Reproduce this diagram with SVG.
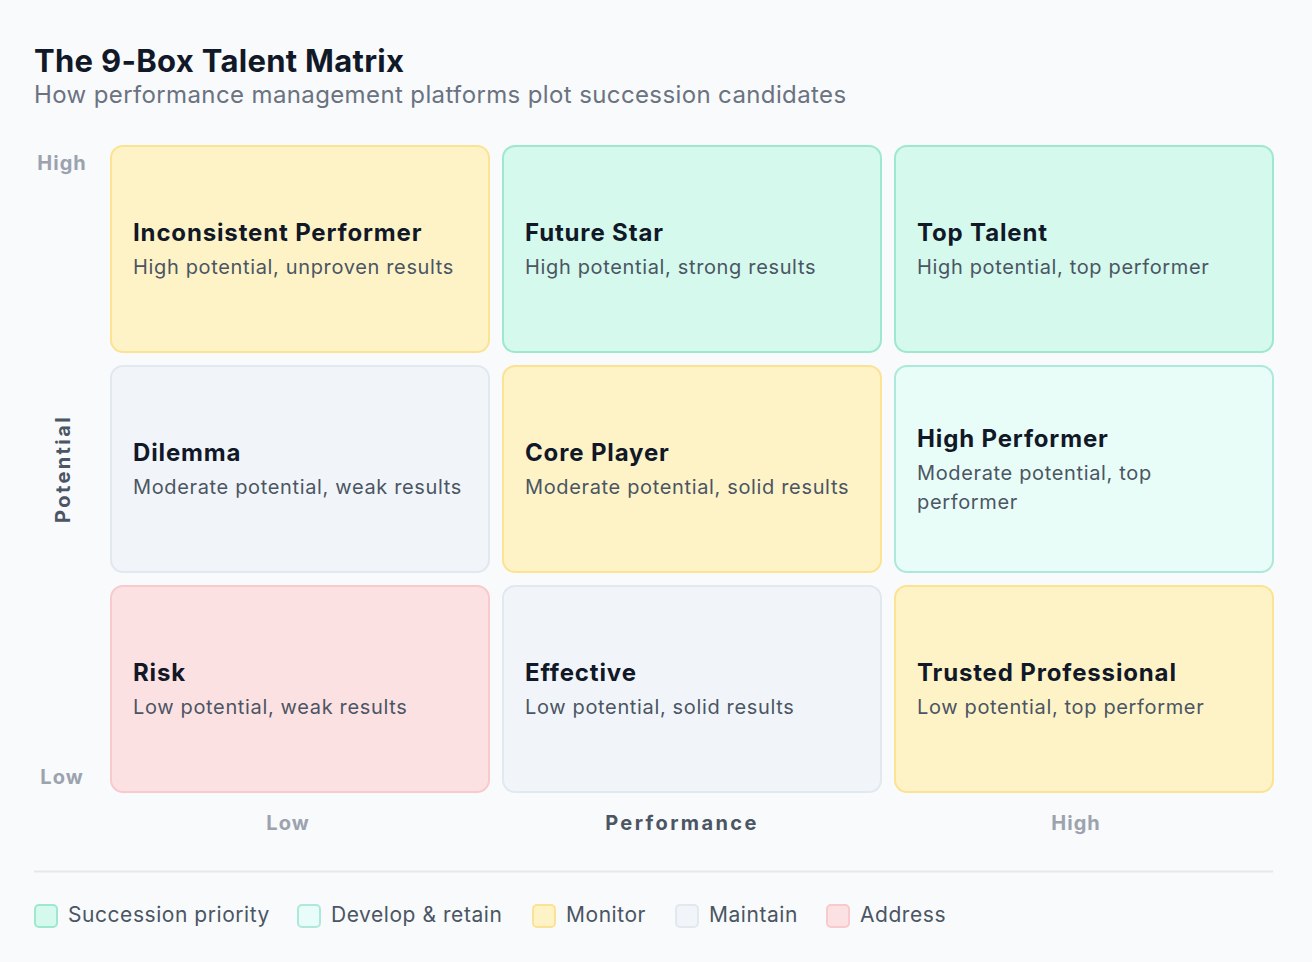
<svg xmlns="http://www.w3.org/2000/svg" width="1312" height="962" viewBox="0 0 1312 962">
<style>
text{font-family:Inter,"Noto Sans","Liberation Sans",sans-serif}
.t{font-size:24px;font-weight:700;fill:#111827;letter-spacing:0.85px}
.s{font-size:20px;fill:#4b5563;letter-spacing:0.65px}
.ax{font-size:20px;font-weight:700;fill:#9ca3af;letter-spacing:1px}
.axl{font-size:20px;font-weight:700;fill:#4b5563;letter-spacing:2.4px}
.lg{font-size:21px;fill:#4b5563;letter-spacing:0.55px}
.g{fill:#d5f9ed;stroke:#9de8cf}
.c{fill:#e8fdf8;stroke:#ade9da}
.y{fill:#fef3c7;stroke:#fbe393}
.m{fill:#f1f5f9;stroke:#e2e8f0}
.r{fill:#fce1e3;stroke:#f8c9cd}
rect.b{stroke-width:2}
</style>
<rect width="1312" height="962" fill="#f8fafc"/>
<text x="34" y="72" font-size="31" font-weight="700" fill="#111827" letter-spacing="0.3">The 9-Box Talent Matrix</text>
<text x="34" y="103" font-size="24" fill="#6b7280" letter-spacing="0.38">How performance management platforms plot succession candidates</text>

<g id="axes">
<text class="ax" x="62" y="170" text-anchor="middle">High</text>
<text class="ax" x="62" y="784" text-anchor="middle">Low</text>
<text class="axl" transform="translate(70,469) rotate(-90)" text-anchor="middle">Potential</text>
<text class="ax" x="288" y="830" text-anchor="middle">Low</text>
<text class="axl" x="682" y="830" text-anchor="middle">Performance</text>
<text class="ax" x="1076" y="830" text-anchor="middle">High</text>
</g>

<g id="inconsistent-performer"><rect class="b y" x="111" y="146" width="378" height="206" rx="12"/>
<text class="t" x="133" y="241">Inconsistent Performer</text><text class="s" x="133" y="274">High potential, unproven results</text></g>
<g id="future-star"><rect class="b g" x="503" y="146" width="378" height="206" rx="12"/>
<text class="t" x="525" y="241">Future Star</text><text class="s" x="525" y="274">High potential, strong results</text></g>
<g id="top-talent"><rect class="b g" x="895" y="146" width="378" height="206" rx="12"/>
<text class="t" x="917" y="241">Top Talent</text><text class="s" x="917" y="274">High potential, top performer</text></g>

<g id="dilemma"><rect class="b m" x="111" y="366" width="378" height="206" rx="12"/>
<text class="t" x="133" y="461">Dilemma</text><text class="s" x="133" y="494">Moderate potential, weak results</text></g>
<g id="core-player"><rect class="b y" x="503" y="366" width="378" height="206" rx="12"/>
<text class="t" x="525" y="461">Core Player</text><text class="s" x="525" y="494">Moderate potential, solid results</text></g>
<g id="high-performer"><rect class="b c" x="895" y="366" width="378" height="206" rx="12"/>
<text class="t" x="917" y="447">High Performer</text><text class="s" x="917" y="480">Moderate potential, top</text><text class="s" x="917" y="509">performer</text></g>

<g id="risk"><rect class="b r" x="111" y="586" width="378" height="206" rx="12"/>
<text class="t" x="133" y="681">Risk</text><text class="s" x="133" y="714">Low potential, weak results</text></g>
<g id="effective"><rect class="b m" x="503" y="586" width="378" height="206" rx="12"/>
<text class="t" x="525" y="681">Effective</text><text class="s" x="525" y="714">Low potential, solid results</text></g>
<g id="trusted-professional"><rect class="b y" x="895" y="586" width="378" height="206" rx="12"/>
<text class="t" x="917" y="681">Trusted Professional</text><text class="s" x="917" y="714">Low potential, top performer</text></g>

<line x1="34" y1="871.5" x2="1273" y2="871.5" stroke="#e5e7eb" stroke-width="2"/>

<g id="legend">
<rect class="b g" x="35" y="905" width="22" height="22" rx="4"/><text class="lg" x="68" y="922">Succession priority</text>
<rect class="b c" x="298" y="905" width="22" height="22" rx="4"/><text class="lg" x="331" y="922">Develop &amp; retain</text>
<rect class="b y" x="533" y="905" width="22" height="22" rx="4"/><text class="lg" x="566" y="922">Monitor</text>
<rect class="b m" x="676" y="905" width="22" height="22" rx="4"/><text class="lg" x="709" y="922">Maintain</text>
<rect class="b r" x="827" y="905" width="22" height="22" rx="4"/><text class="lg" x="860" y="922">Address</text>
</g>
<g id="connectors"/>
</svg>
